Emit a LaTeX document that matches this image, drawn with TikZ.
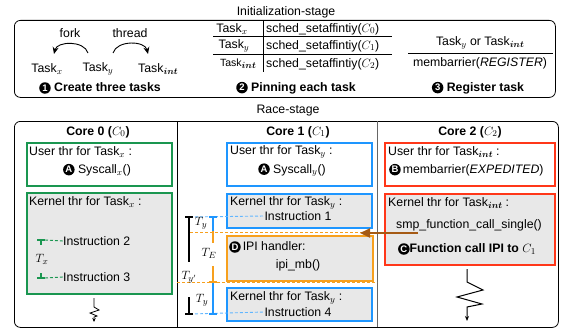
\documentclass[tikz,border=0pt]{standalone}
\usepackage{fontspec}
\setmainfont{Liberation Sans}
\usepackage{bm}
\usetikzlibrary{arrows.meta}
\definecolor{cgreen}{RGB}{26,150,80}
\definecolor{cblue}{RGB}{30,150,255}
\definecolor{cred}{RGB}{255,55,25}
\definecolor{corange}{RGB}{247,160,30}
\definecolor{cbrown}{RGB}{165,90,20}
\definecolor{cgray}{RGB}{232,232,232}
\newcommand\blk[1]{\tikz[baseline=-0.6ex]\node[circle,fill=black,text=white,inner sep=0pt,minimum size=11.5pt,font=\bfseries\fontsize{9.5}{10}\selectfont]{#1};}
\newcommand\ints{\raisebox{-0.35ex}{\fontsize{9.5}{10}\selectfont$\bm{int}$}}
\begin{document}
\begin{tikzpicture}[x=1pt,y=-1pt,
  t/.style={inner sep=0pt,font=\fontsize{12.3}{14}\selectfont},
  tb/.style={inner sep=0pt,font=\fontsize{12.3}{14}\selectfont\bfseries},
  box/.style={draw=#1,line width=1.6pt,anchor=north west,inner sep=0pt},
  frame/.style={draw,line width=0.8pt,rounded corners=6pt,anchor=north west,inner sep=0pt},
  rule/.style={line width=0.7pt},
  bdash/.style={cblue!70,line width=0.9pt,dash pattern=on 3pt off 2pt},
  odash/.style={corange,line width=0.9pt,dash pattern=on 3pt off 2pt},
  gdash/.style={cgreen,line width=0.9pt,dash pattern=on 3pt off 2pt},
  arr/.style={line width=0.9pt,-{Stealth[length=7pt,width=6pt]}}]
\useasboundingbox (0,0) rectangle (561,329);

% ---------- Initialization stage ----------
\node[t] (inittitle) at (286,12) {Initialization-stage};
\node[frame,minimum width=541,minimum height=77] (init) at (14,20) {};

% section 1
\node[t] (fork) at (70,33) {fork};
\node[t] (thread) at (130,33) {thread};
\node[t] (tx) at (47,69) {Task$_x$};
\node[t] (ty) at (98,69) {Task$_y$};
\node[t] (ti) at (158,69) {Task\ints};
\coordinate (fs) at (88,53);
\coordinate (fe) at (54,54);
\coordinate (ts) at (113,53);
\coordinate (te) at (148,54);
\draw[arr] (fs) to[bend right=75] (fe);
\draw[arr] (ts) to[bend left=75] (te);
\node[tb] (cap1) at (100,88) {\blk{1} Create three tasks};

% section 2
\node[t,anchor=center] (r1a) at (232,29) {Task$_x$};
\node[t,anchor=center] (r2a) at (234,46) {Task$_y$};
\node[t,anchor=center,font=\fontsize{10.5}{12}\selectfont] (r3a) at (238,64) {Task\ints};
\node[t,anchor=west] (r1b) at (266,29) {sched\_setaffintiy($C_0$)};
\node[t,anchor=west] (r2b) at (266,46) {sched\_setaffintiy($C_1$)};
\node[t,anchor=west] (r3b) at (266,64) {sched\_setaffintiy($C_2$)};
\draw[rule] (263,21) -- (263,72);
\draw[rule] (213,36) -- (392,36);
\draw[rule] (213,54) -- (392,54);
\node[tb] (cap2) at (296,88) {\blk{2} Pinning each task};

% section 3
\node[t] (reg1) at (480,43) {Task$_y$ or Task\ints};
\draw[rule] (408,53) -- (553,53);
\node[t] (reg2) at (480,63) {membarrier(\textit{REGISTER})};
\node[tb] (cap3) at (478,88) {\blk{3} Register task};

% ---------- Race stage ----------
\node[t] (racetitle) at (288,111) {Race-stage};
\node[frame,minimum width=544,minimum height=206] (race) at (14,121) {};
\draw[line width=0.8pt] (177,121) -- (177,327);
\draw[line width=0.8pt,black!60] (377,121) -- (377,327);

\node[tb] (core0) at (98,132) {Core 0 ($C_0$)};
\node[tb] (core1) at (298,132) {Core 1 ($C_1$)};
\node[tb] (core2) at (470,132) {Core 2 ($C_2$)};

% core 0
\node[box=cgreen,fill=white,minimum width=145,minimum height=43] (u0) at (26,142) {};
\node[t,anchor=west] at (29,152) {User thr for Task$_x$ :};
\node[t] at (97,170) {\blk{A} Syscall$_x$()};
\node[box=cgreen,fill=cgray,minimum width=145,minimum height=101] (k0) at (26,192) {};
\node[t,anchor=west] at (29,202) {Kernel thr for Task$_x$ :};
\node[t,anchor=west] (i2) at (63,241) {Instruction 2};
\node[t,anchor=west] (i3) at (63,277) {Instruction 3};
\node[t] (tx2) at (42,259) {$T_x$};
\draw[cgreen,line width=1.8pt] (37,240) -- (45,240);
\draw[cgreen,line width=1.4pt] (41,240) -- (41,245);
\draw[cgreen,line width=1.8pt] (37,278) -- (45,278);
\draw[cgreen,line width=1.4pt] (41,278) -- (41,273);
\draw[gdash] (45,240) -- (i2.west);
\draw[gdash] (45,278) -- (i3.west);
\coordinate (z0a) at (94,298);
\coordinate (z0b) at (94,322);
\draw[line width=0.8pt,-{Stealth[length=4pt,width=3.5pt]}] (z0a) -- (94,307) -- (99,310) -- (90,313) -- (97,316) -- (94,317) -- (z0b);

% core 1
\node[box=cblue,fill=white,minimum width=145,minimum height=43] (u1) at (226,142) {};
\node[t,anchor=west] at (230,152) {User thr for Task$_y$ :};
\node[t] at (292,170) {\blk{A} Syscall$_y$()};
\node[box=cblue,fill=cgray,minimum width=145,minimum height=34] (k1a) at (226,193) {};
\node[t,anchor=west] at (230,203) {Kernel thr for Task$_y$ :};
\node[t] (i1) at (298,216) {Instruction 1};
\node[box=corange,fill=cgray,minimum width=146,minimum height=45] (ipi) at (226,235) {};
\node[t,anchor=west] at (229,247) {\blk{D}\,IPI handler:};
\node[t] at (298,265) {ipi\_mb()};
\node[box=cblue,fill=cgray,minimum width=145,minimum height=33] (k1b) at (226,287) {};
\node[t,anchor=west] at (230,298) {Kernel thr for Task$_y$ :};
\node[t] (i4) at (298,312) {Instruction 4};

% timeline
\draw[bdash] (190,217) -- (i1.west);
\draw[bdash] (190,314) -- (i4.west);
\draw[odash] (190,232) -- (377,232);
\draw[odash] (177,282) -- (377,282);
\draw[line width=1.6pt] (185,217) -- (193,217);
\draw[line width=1.2pt] (189,217) -- (189,262);
\draw[line width=1.6pt] (185,314) -- (193,314);
\draw[line width=1.2pt] (189,297) -- (189,314);
\draw[cblue,line width=1.6pt] (209,217) -- (217,217);
\draw[cblue,line width=1.2pt] (213,217) -- (213,231);
\draw[corange,line width=1.2pt] (213,231) -- (213,243);
\draw[corange,line width=1.2pt] (213,266) -- (213,282);
\draw[corange,line width=1.6pt] (209,282) -- (217,282);
\draw[cblue,line width=1.2pt] (213,283) -- (213,314);
\draw[cblue,line width=1.6pt] (209,314) -- (217,314);
\node[t] at (201,223) {$T_y$};
\node[t] at (209,253) {$T_E$};
\node[t] at (189,277) {$T_{y'}$};
\node[t] at (202,300) {$T_y$};

% core 2
\node[box=cred,fill=white,minimum width=170,minimum height=43] (u2) at (384,142) {};
\node[t,anchor=west] at (388,152) {User thr for Task\ints\ :};
\node[t,anchor=west] at (389,170) {\blk{B}\,membarrier(\textit{EXPEDITED})};
\node[box=cred,fill=cgray,minimum width=170,minimum height=71] (k2) at (384,193) {};
\node[t,anchor=west] at (388,203) {Kernel thr for Task\ints\ :};
\node[t] (smp) at (469,225) {smp\_function\_call\_single()};
\node[tb] at (467,249) {\blk{C}Function call IPI to $C_1$};
\coordinate (ipisrc) at (418,233);
\coordinate (ipidst) at (360,233);
\draw[cbrown,line width=2pt,-{Triangle[length=10pt,width=9pt]}] (ipisrc) -- (ipidst);
\coordinate (z2a) at (467,269);
\coordinate (z2b) at (467,321);
\draw[line width=1pt,-{Stealth[length=5pt,width=4pt]}] (z2a) -- (467,282) -- (483,290) -- (457,297) -- (482,304) -- (467,307) -- (z2b);
\end{tikzpicture}
\end{document}
